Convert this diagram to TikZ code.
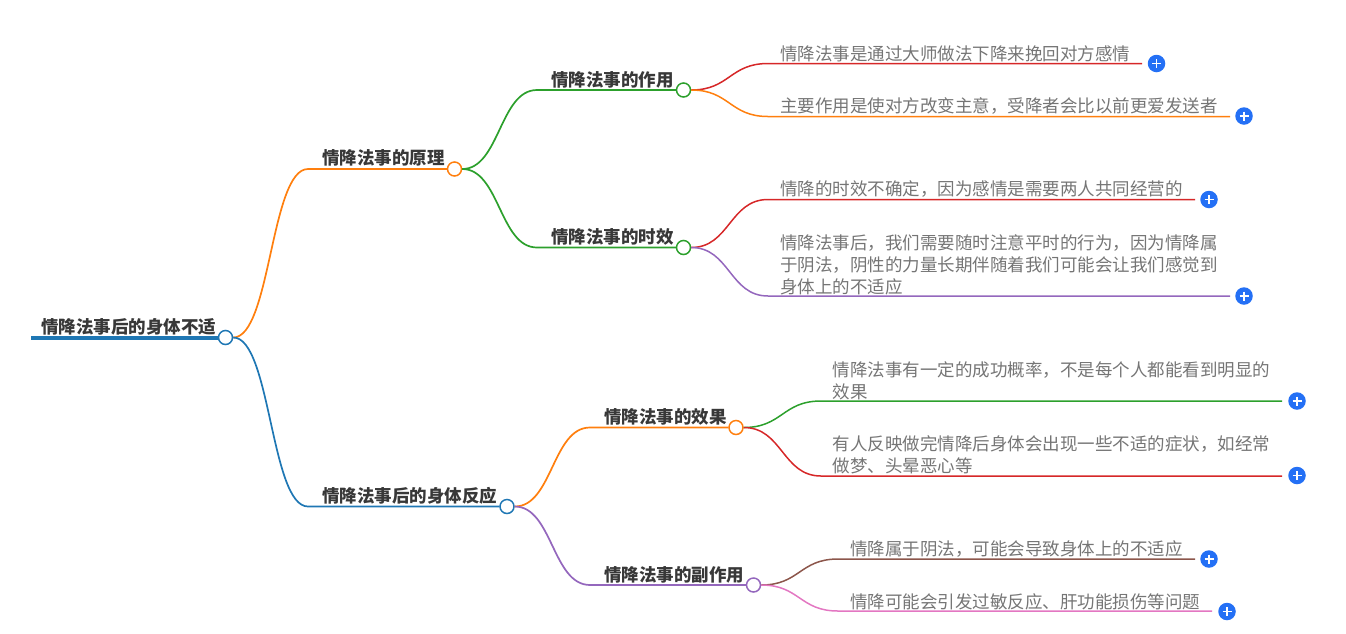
\documentclass[tikz,border=0pt]{standalone}
\usepackage{fontspec}
\setmainfont{Noto Sans CJK SC}
\usetikzlibrary{calc}
\definecolor{cblue}{HTML}{1F77B4}
\definecolor{corange}{HTML}{FF7F0E}
\definecolor{cgreen}{HTML}{2CA02C}
\definecolor{cred}{HTML}{D62728}
\definecolor{cpurple}{HTML}{9467BD}
\definecolor{cbrown}{HTML}{8C564B}
\definecolor{cpink}{HTML}{E377C2}
\definecolor{plusblue}{HTML}{2470F5}
\definecolor{headtext}{HTML}{383838}
\definecolor{leaftext}{HTML}{757575}
\tikzset{
  x=1pt,y=-1pt,
  head/.style={anchor=base west,inner sep=0pt,text=headtext,font=\fontsize{17.5}{22}\selectfont\bfseries},
  leaf/.style={anchor=south west,inner sep=0pt,align=left,text=leaftext,font=\fontsize{17.5}{22}\selectfont},
  knob/.style={circle,draw=#1,fill=white,line width=1.5pt,minimum size=14pt,inner sep=0pt},
  plusbtn/.style={circle,fill=plusblue,minimum size=17.5pt,inner sep=0pt,
    path picture={\draw[white,line width=1.6pt]
      ($(path picture bounding box.center)+(-4.5,0)$) -- ($(path picture bounding box.center)+(4.5,0)$)
      ($(path picture bounding box.center)+(0,-4.5)$) -- ($(path picture bounding box.center)+(0,4.5)$);}},
  hc/.style={to path={let \p1=(\tikztostart),\p2=(\tikztotarget),\n1={0.5*(\x2-\x1)} in
     .. controls (\x1+\n1,\y1) and (\x2-\n1,\y2) .. (\tikztotarget)}},
  wire/.style={line width=1.5pt,draw=#1},
  branch/.style={line width=1.7pt,draw=#1},
}
\begin{document}
\begin{tikzpicture}
\useasboundingbox (0,0) rectangle (1346,633);
% knobs
\node[knob=cblue] (k0) at (225.5,337.5) {};
\node[knob=corange] (k1) at (454.5,169) {};
\node[knob=cblue] (k2) at (507,506.5) {};
\node[knob=cgreen] (k11) at (683.5,90) {};
\node[knob=cgreen] (k12) at (683.5,247.5) {};
\node[knob=corange] (k21) at (736,427.5) {};
\node[knob=cpurple] (k22) at (753.5,585) {};
% heads
\node[head] (root) at (41,333) {情降法事后的身体不适};
\node[head] (h1) at (322,164) {情降法事的原理};
\node[head] (h2) at (322,502) {情降法事后的身体反应};
\node[head] (h11) at (551,86) {情降法事的作用};
\node[head] (h12) at (551,243) {情降法事的时效};
\node[head] (h21) at (604,423) {情降法事的效果};
\node[head] (h22) at (604,581) {情降法事的副作用};
% leaves
\node[leaf] (l1) at (780,62) {情降法事是通过大师做法下降来挽回对方感情};
\node[leaf] (l2) at (780,115) {主要作用是使对方改变主意，受降者会比以前更爱发送者};
\node[leaf] (l3) at (780,198) {情降的时效不确定，因为感情是需要两人共同经营的};
\node[leaf] (l4) at (780,295) {情降法事后，我们需要随时注意平时的行为，因为情降属\\于阴法，阴性的力量长期伴随着我们可能会让我们感觉到\\身体上的不适应};
\node[leaf] (l5) at (832.5,400) {情降法事有一定的成功概率，不是每个人都能看到明显的\\效果};
\node[leaf] (l6) at (832.5,474) {有人反映做完情降后身体会出现一些不适的症状，如经常\\做梦、头晕恶心等};
\node[leaf] (l7) at (850,557.5) {情降属于阴法，可能会导致身体上的不适应};
\node[leaf] (l8) at (850,610) {情降可能会引发过敏反应、肝功能损伤等问题};
% plus buttons
\node[plusbtn] (p1) at (1156.5,63.5) {};
\node[plusbtn] (p2) at (1244,116) {};
\node[plusbtn] (p3) at (1209,199.5) {};
\node[plusbtn] (p4) at (1244,296) {};
\node[plusbtn] (p5) at (1297,401) {};
\node[plusbtn] (p6) at (1297,475.5) {};
\node[plusbtn] (p7) at (1209,559) {};
\node[plusbtn] (p8) at (1227,611.5) {};
% free ends
\coordinate (r0) at (31,337.5);
\coordinate (a1) at (308,169); \coordinate (a2) at (308,506.5);
\coordinate (b11) at (537,90); \coordinate (b12) at (537,247.5);
\coordinate (b21) at (590,427.5); \coordinate (b22) at (590,585);
\coordinate (c1) at (768,63.5); \coordinate (e1) at (1142,63.5);
\coordinate (c2) at (768,116.5); \coordinate (e2) at (1230,116.5);
\coordinate (c3) at (768,199.5); \coordinate (e3) at (1195,199.5);
\coordinate (c4) at (768,296); \coordinate (e4) at (1230,296);
\coordinate (c5) at (821,401); \coordinate (e5) at (1282,401);
\coordinate (c6) at (821,476); \coordinate (e6) at (1282,476);
\coordinate (c7) at (838,559); \coordinate (e7) at (1195,559);
\coordinate (c8) at (838,611); \coordinate (e8) at (1212,611);
% connectors
\draw[cblue,line width=4pt] (r0) -- (k0.west);
\draw[branch=corange] (k0.east) to[hc] (a1) -- (k1.west);
\draw[branch=cblue] (k0.east) to[hc] (a2) -- (k2.west);
\draw[branch=cgreen] (k1.east) to[hc] (b11) -- (k11.west);
\draw[branch=cgreen] (k1.east) to[hc] (b12) -- (k12.west);
\draw[branch=corange] (k2.east) to[hc] (b21) -- (k21.west);
\draw[branch=cpurple] (k2.east) to[hc] (b22) -- (k22.west);
\draw[wire=cred] (k11.east) to[hc] (c1) -- (e1);
\draw[wire=corange] (k11.east) to[hc] (c2) -- (e2);
\draw[wire=cred] (k12.east) to[hc] (c3) -- (e3);
\draw[wire=cpurple] (k12.east) to[hc] (c4) -- (e4);
\draw[wire=cgreen] (k21.east) to[hc] (c5) -- (e5);
\draw[wire=cred] (k21.east) to[hc] (c6) -- (e6);
\draw[wire=cbrown] (k22.east) to[hc] (c7) -- (e7);
\draw[wire=cpink] (k22.east) to[hc] (c8) -- (e8);
\end{tikzpicture}
\end{document}
